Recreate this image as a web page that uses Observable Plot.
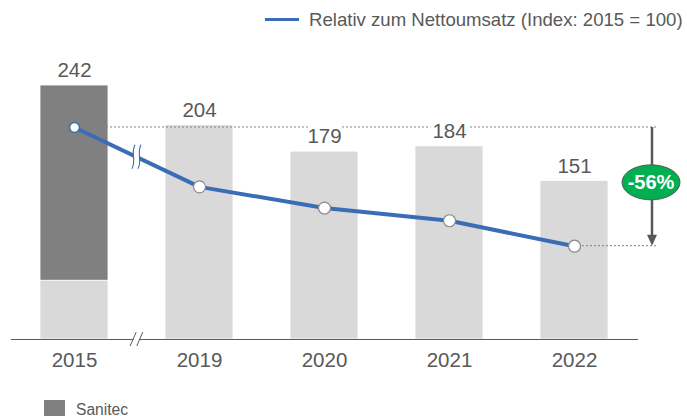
<!DOCTYPE html>
<html>
<head>
<meta charset="utf-8">
<script src="https://cdn.jsdelivr.net/npm/d3@7"></script>
<script src="https://cdn.jsdelivr.net/npm/@observablehq/plot@0.6"></script>
<style>
  html, body { margin: 0; padding: 0; background: #fff; }
  body { width: 687px; height: 416px; position: relative; overflow: hidden;
         font-family: "Liberation Sans", Arial, sans-serif; color: #595959; }
  #top { position: relative; height: 40px; }
  #top .swatch { position: absolute; left: 265px; top: 17.5px; width: 34px; height: 3.5px; background: #3a6db5; }
  #top .txt { position: absolute; left: 309px; top: 9.5px; font-size: 18.6px; line-height: 20px; white-space: nowrap; }
  #chart { position: absolute; left: 0; top: 40px; }
  #bottom .swatch { position: absolute; left: 44px; top: 400px; width: 21px; height: 21px; background: #808080; }
  #bottom .txt { position: absolute; left: 76px; top: 399.5px; font-size: 15.6px; line-height: 20px; }
</style>
</head>
<body>
<div id="top"><span class="swatch"></span><span class="txt" id="legendLineText"></span></div>
<div id="chart"></div>
<div id="bottom"><span class="swatch"></span><span class="txt" id="legendBarText"></span></div>
<script>
// ---- data ----
const years = ["2015", "2019", "2020", "2021", "2022"];
const totals = [242, 204, 179, 184, 151];
const sanitecPart = [186, 0, 0, 0, 0];
const indexValues = [100, 72, 62, 56, 44];
const changeLabel = "-56%";
const legendLine = "Relativ zum Nettoumsatz (Index: 2015 = 100)";
const legendBar = "Sanitec";

// index line is drawn on the bar axis; index 100 sits at this bar-axis level
const indexToAxis = 2.02;

document.getElementById("legendLineText").textContent = legendLine;
document.getElementById("legendBarText").textContent = legendBar;

const barRows = years.flatMap((year, i) => [
  {year, part: "Rest", value: totals[i] - sanitecPart[i]},
  {year, part: "Sanitec", value: sanitecPart[i]}
]).filter(d => d.value > 0);
const labelRows = years.map((year, i) => ({year, total: totals[i]}));
const lineRows = years.map((year, i) => ({year, index: indexValues[i]}));

const blue = "#3a6db5";
const gray = "#595959";

const chart = Plot.plot({
  width: 687,
  height: 350,
  marginLeft: 11,
  marginRight: 49,
  marginTop: 0,
  marginBottom: 51,
  x: {domain: years, paddingInner: 0.453, paddingOuter: 0.2285},
  y: {domain: [0, 242], range: [299, 45], axis: null},
  color: {domain: ["Rest", "Sanitec"], range: ["#d9d9d9", "#808080"]},
  style: {fontFamily: "'Liberation Sans', Arial, sans-serif", background: "white", overflow: "visible"},
  marks: [
    Plot.barY(barRows, {x: "year", y: "value", fill: "part", stroke: "white", strokeWidth: 0.8}),
    Plot.ruleY([0], {stroke: gray, strokeWidth: 1.2}),
    Plot.axisX({tickSize: 0, tickPadding: 13, fontSize: 20.5, color: gray, label: null}),
    Plot.line(lineRows, {x: "year", y: d => d.index * indexToAxis, stroke: blue, strokeWidth: 4, strokeLinejoin: "round"}),
    Plot.dot(lineRows.slice(1), {x: "year", y: d => d.index * indexToAxis, r: 6, fill: "white", stroke: "#8a8a8a", strokeWidth: 1.2}),
    Plot.dot(lineRows.slice(0, 1), {x: "year", y: d => d.index * indexToAxis, r: 5, fill: "white", stroke: blue, strokeWidth: 1.6}),
    Plot.text(labelRows, {x: "year", y: "total", text: d => String(d.total), dy: -15, fontSize: 20.5,
      fill: gray, stroke: "white", strokeWidth: 8, paintOrder: "stroke"})
  ]
});
document.getElementById("chart").appendChild(chart);

// ---- annotations positioned through the chart's scales ----
const sx = chart.scale("x"), sy = chart.scale("y");
const cx = v => sx.apply(v) + sx.bandwidth / 2;
const svg = d3.select(chart);
const yTop = sy.apply(indexValues[0] * indexToAxis);
const yBot = sy.apply(indexValues[indexValues.length - 1] * indexToAxis);
const xLast = cx(years[years.length - 1]);
const xEnd = xLast + 82;
const xArrow = xLast + 78;

let lineGroup = chart.querySelector("g[aria-label='line']");
const under = d3.select(chart.insertBefore(document.createElementNS("http://www.w3.org/2000/svg", "g"), lineGroup));
under.append("line").attr("x1", cx(years[0])).attr("x2", xEnd).attr("y1", yTop).attr("y2", yTop)
  .attr("stroke", "#7f7f7f").attr("stroke-width", 1).attr("stroke-dasharray", "2,2");
under.append("line").attr("x1", xLast).attr("x2", xEnd).attr("y1", yBot).attr("y2", yBot)
  .attr("stroke", "#7f7f7f").attr("stroke-width", 1).attr("stroke-dasharray", "2,2");

const over = svg.append("g");
// arrow
over.append("line").attr("x1", xArrow).attr("x2", xArrow).attr("y1", yTop).attr("y2", yBot - 9)
  .attr("stroke", gray).attr("stroke-width", 2.5);
over.append("path").attr("d", `M${xArrow - 5},${yBot - 11}L${xArrow + 5},${yBot - 11}L${xArrow},${yBot}Z`).attr("fill", gray);
const cyE = (yTop + yBot) / 2 - 4;
over.append("ellipse").attr("cx", xArrow - 1).attr("cy", cyE).attr("rx", 29).attr("ry", 17.5)
  .attr("fill", "#00b050").attr("stroke", gray).attr("stroke-width", 1);
over.append("text").attr("x", xArrow - 1).attr("y", cyE).attr("dy", "0.35em").attr("text-anchor", "middle")
  .attr("fill", "white").attr("font-weight", "bold").attr("font-size", 20).text(changeLabel);

// axis break marks between first and second category
const xb = (cx(years[0]) + cx(years[1])) / 2;
const y0 = sy.apply(indexValues[0] * indexToAxis), y1 = sy.apply(indexValues[1] * indexToAxis);
const yl = y0 + (y1 - y0) * (xb - cx(years[0])) / (cx(years[1]) - cx(years[0]));
const sCurve = (x, y) => `M${x + 1.5},${y - 12}C${x - 3},${y - 4} ${x + 3},${y + 4} ${x - 1.5},${y + 12}`;
over.append("path").attr("d", sCurve(xb, yl)).attr("fill", "none").attr("stroke", "white").attr("stroke-width", 5);
over.append("path").attr("d", sCurve(xb - 3, yl)).attr("fill", "none").attr("stroke", blue).attr("stroke-width", 1.1);
over.append("path").attr("d", sCurve(xb + 3, yl)).attr("fill", "none").attr("stroke", blue).attr("stroke-width", 1.1);
const yAx = sy.apply(0);
over.append("line").attr("x1", xb - 3).attr("x2", xb + 3).attr("y1", yAx).attr("y2", yAx).attr("stroke", "white").attr("stroke-width", 2);
[-3.3, 3.3].forEach(o => {
  over.append("line").attr("x1", xb + o - 3).attr("x2", xb + o + 3).attr("y1", yAx + 7).attr("y2", yAx - 7)
    .attr("stroke", gray).attr("stroke-width", 1);
});
</script>
</body>
</html>
